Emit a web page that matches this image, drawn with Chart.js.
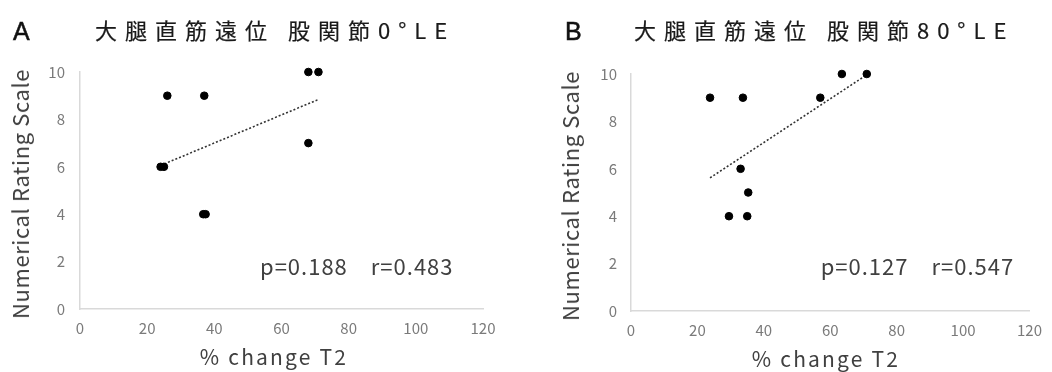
<!DOCTYPE html>
<html>
<head>
<meta charset="utf-8">
<script src="https://cdn.jsdelivr.net/npm/chart.js@4.4.1/dist/chart.umd.min.js"></script>
<style>
  body { margin: 0; background: #fff; }
  #wrap { position: relative; width: 1052px; height: 372px; overflow: hidden; font-family: "Noto Sans CJK JP", sans-serif; }
  canvas { position: absolute; top: 0; }
  .letter { position: absolute; font-family: "Liberation Sans", Arial, sans-serif; font-size: 25px; line-height: 30px; color: #111; -webkit-text-stroke: 0.5px #111; }
  .title { position: absolute; font-size: 22px; line-height: 30px; letter-spacing: 8px; color: #1a1a1a; white-space: nowrap; -webkit-text-stroke: 0.2px #1a1a1a; }
  .ytitle, .xtitle { position: absolute; white-space: nowrap; color: #404040; font-size: 22px; line-height: 32px; }
  .ytitle { letter-spacing: 0.6px; transform: translate(-50%, -50%) rotate(-90deg); }
  .xtitle { letter-spacing: 2.2px; font-size: 21px; transform: translate(-50%, -50%); }
</style>
</head>
<body>
<div id="wrap">
  <canvas id="chartA" width="526" height="372" style="left:0"></canvas>
  <canvas id="chartB" width="526" height="372" style="left:526px"></canvas>

  <div class="letter" style="left:13px; top:16px">A</div>
  <div class="title" style="left:95px; top:14px">大腿直筋遠位 股関節0°LE</div>
  <div class="ytitle" style="left:19px; top:194px">Numerical Rating Scale</div>
  <div class="xtitle" style="left:274px; top:356px">% change T2</div>

  <div class="letter" style="left:565px; top:16px">B</div>
  <div class="title" style="left:634px; top:14px">大腿直筋遠位 股関節80°LE</div>
  <div class="ytitle" style="left:569px; top:196px">Numerical Rating Scale</div>
  <div class="xtitle" style="left:826px; top:358px">% change T2</div>
</div>

<script>
// axis ticks
const xTicks = [0, 20, 40, 60, 80, 100, 120];
const yTicks = [0, 2, 4, 6, 8, 10];

// hip 0° LE
const changeA = [26, 37, 68, 71, 68, 24, 25, 36.7, 37.4];
const nrsA = [9, 9, 10, 10, 7, 6, 6, 4, 4];
const statsA = 'p=0.188\u3000r=0.483';

// hip 80° LE
const changeB = [23.8, 33.7, 57, 63.5, 71, 33, 35.3, 29.5, 35];
const nrsB = [9, 9, 9, 10, 10, 6, 5, 4, 4];
const statsB = 'p=0.127\u3000r=0.547';

Chart.defaults.font.family = '"Noto Sans CJK JP", sans-serif';

// least squares line between the smallest and largest x
function trend(xs, ys) {
    const n = xs.length;
    const mx = xs.reduce((a, b) => a + b, 0) / n;
    const my = ys.reduce((a, b) => a + b, 0) / n;
    let sxy = 0, sxx = 0;
    for (let i = 0; i < n; i++) {
        sxy += (xs[i] - mx) * (ys[i] - my);
        sxx += (xs[i] - mx) * (xs[i] - mx);
    }
    const slope = sxy / sxx;
    const lo = Math.min(...xs), hi = Math.max(...xs);
    return [lo, hi].map((x) => ({ x: x, y: my + slope * (x - mx) }));
}

// p / r text placed in data coordinates
const statsLabel = {
    id: 'statsLabel',
    afterDatasetsDraw(chart, args, opts) {
        const ctx = chart.ctx;
        ctx.save();
        ctx.font = '22px "Noto Sans CJK JP"';
        ctx.fillStyle = '#404040';
        ctx.letterSpacing = '1px';
        ctx.textBaseline = 'alphabetic';
        ctx.fillText(opts.text,
            chart.scales.x.getPixelForValue(opts.x),
            chart.scales.y.getPixelForValue(opts.y));
        ctx.restore();
    }
};

function makeChart(id, xs, ys, stats, layout) {
    const points = xs.map((x, i) => ({ x: x, y: ys[i] }));
    const tickFont = { size: 15 };
    new Chart(document.getElementById(id), {
        type: 'scatter',
        data: {
            datasets: [{
                data: points,
                backgroundColor: '#000',
                borderColor: '#000',
                pointRadius: 3.8,
                pointHoverRadius: 3.8,
                clip: false
            }, {
                type: 'line',
                data: trend(xs, ys),
                borderColor: '#333',
                borderWidth: 1.6,
                borderDash: [2, 2],
                pointRadius: 0,
                fill: false,
                clip: false
            }]
        },
        options: {
            responsive: false,
            animation: false,
            events: [],
            layout: { padding: { left: 0, top: layout.top, right: layout.right, bottom: 0 } },
            plugins: {
                legend: { display: false },
                tooltip: { enabled: false },
                statsLabel: { text: stats, x: layout.statX, y: layout.statY }
            },
            scales: {
                x: {
                    type: 'linear',
                    min: xTicks[0],
                    max: xTicks[xTicks.length - 1],
                    afterBuildTicks: (s) => { s.ticks = xTicks.map((v) => ({ value: v })); },
                    afterFit: (s) => { s.height = layout.xHeight; },
                    grid: { display: false, drawTicks: false },
                    border: { display: true, color: '#d9d9d9', width: 1.5 },
                    ticks: { color: '#7a7a7a', font: tickFont, padding: 10, maxRotation: 0 }
                },
                y: {
                    min: yTicks[0],
                    max: yTicks[yTicks.length - 1],
                    afterBuildTicks: (s) => { s.ticks = yTicks.map((v) => ({ value: v })); },
                    afterFit: (s) => { s.width = layout.yWidth; },
                    grid: { display: false, drawTicks: false },
                    border: { display: true, color: '#d9d9d9', width: 1.5 },
                    ticks: { color: '#7a7a7a', font: tickFont, padding: layout.yPad }
                }
            }
        },
        plugins: [statsLabel]
    });
}

makeChart('chartA', changeA, nrsA, statsA,
    { top: 72, right: 43, xHeight: 63, yWidth: 80, yPad: 15, statX: 53.6, statY: 1.43 });
makeChart('chartB', changeB, nrsB, statsB,
    { top: 74, right: 18, xHeight: 61, yWidth: 105, yPad: 14, statX: 57.1, statY: 1.51 });
</script>
</body>
</html>
